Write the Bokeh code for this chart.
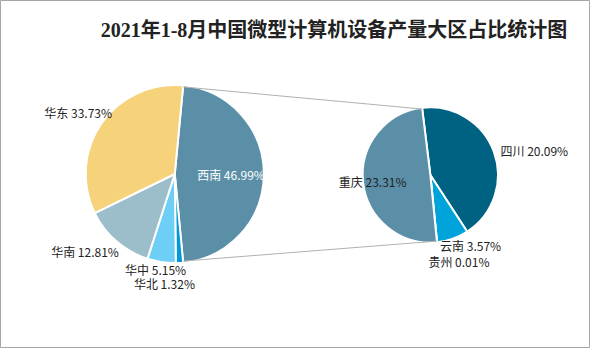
import math
from bokeh.plotting import figure
from bokeh.models import ColumnDataSource
from bokeh.core.properties import value
from bokeh.embed import file_html
from bokeh.resources import INLINE

# ---- data ----
title = "2021年1-8月中国微型计算机设备产量大区占比统计图"
main_names = ["西南", "华北", "华中", "华南", "华东"]
main_values = [46.99, 1.32, 5.15, 12.81, 33.73]
main_colors = ["#5b8fa8", "#0098d6", "#6dcff6", "#9cbdca", "#f6d37b"]

sub_names = ["四川", "云南", "贵州", "重庆"]
sub_values = [20.09, 3.57, 0.01, 23.31]
sub_colors = ["#006283", "#00a3da", "#7fb8d0", "#5b8fa8"]

# ---- layout (reference pixel space, y up) ----
RW, RH = 606, 364
W, H = 590, 348
LC = (179.0, 182.5); LR = 91.5
RC = (441.5, 181.5); RR = 69.5
FONT = value("Noto Sans CJK SC")

p = figure(width=W, height=H, x_range=(0, RW), y_range=(0, RH),
           output_backend="svg", toolbar_location=None, min_border=0,
           background_fill_color="white", border_fill_color="white")
p.axis.visible = False
p.grid.visible = False
p.outline_line_color = "#a6a6a6"


def pie(center, r, vals, colors, start_deg):
    tot = sum(vals)
    starts, ends = [], []
    a = start_deg
    for v in vals:
        span = v / tot * 360.0
        starts.append(math.radians(a))
        ends.append(math.radians(a - span))
        a -= span
    src = ColumnDataSource(dict(x=[center[0]] * len(vals), y=[center[1]] * len(vals),
                                s=starts, e=ends, c=colors))
    p.wedge(x="x", y="y", radius=r, start_angle="s", end_angle="e",
            direction="clock", fill_color="c", line_color="white",
            line_width=2, source=src)
    return starts, ends


main_span = main_values[0] / sum(main_values) * 360.0
ls, le = pie(LC, LR, main_values, main_colors, main_span / 2)
rs, re_ = pie(RC, RR, sub_values, sub_colors, 97.0)


def pt(c, r, ang):
    return c[0] + r * math.cos(ang), c[1] + r * math.sin(ang)

# connector lines
t0 = pt(LC, LR, ls[0]); t1 = pt(RC, RR, rs[0])
b0 = pt(LC, LR, le[0]); b1 = pt(RC, RR, rs[-1])
p.segment(x0=[t0[0], b0[0]], y0=[t0[1], b0[1]], x1=[t1[0], b1[0]], y1=[t1[1], b1[1]],
          line_color="#b0b0b0", line_width=1)

# labels (offsets relative to pie centres)
main_lab_off = [(23, 0), (-42, -114), (-51, -100), (-127, -81), (-134, 64)]
main_lab_col = ["white", "#222222", "#222222", "#222222", "#222222"]
sub_lab_off = [(72, 26), (10, -74), (-2, -91), (-94, -7)]

lx, ly, lt, lc = [], [], [], []
for n, v, (dx, dy), col in zip(main_names, main_values, main_lab_off, main_lab_col):
    lx.append(LC[0] + dx); ly.append(LC[1] + dy); lt.append(f"{n} {v:.2f}%"); lc.append(col)
for n, v, (dx, dy) in zip(sub_names, sub_values, sub_lab_off):
    lx.append(RC[0] + dx); ly.append(RC[1] + dy); lt.append(f"{n} {v:.2f}%"); lc.append("#222222")

p.text(x=lx, y=ly, text=lt, text_color=lc, text_align="left", text_baseline="middle",
       text_font=FONT, text_font_size="12px")

p.text(x=[342.5], y=[333], text=[title], text_align="center", text_baseline="middle",
       text_font=value("Liberation Serif, Noto Sans CJK SC"), text_font_style="bold",
       text_font_size="20px", text_color="#222222")

open("out.html", "w").write(file_html(p, INLINE))
